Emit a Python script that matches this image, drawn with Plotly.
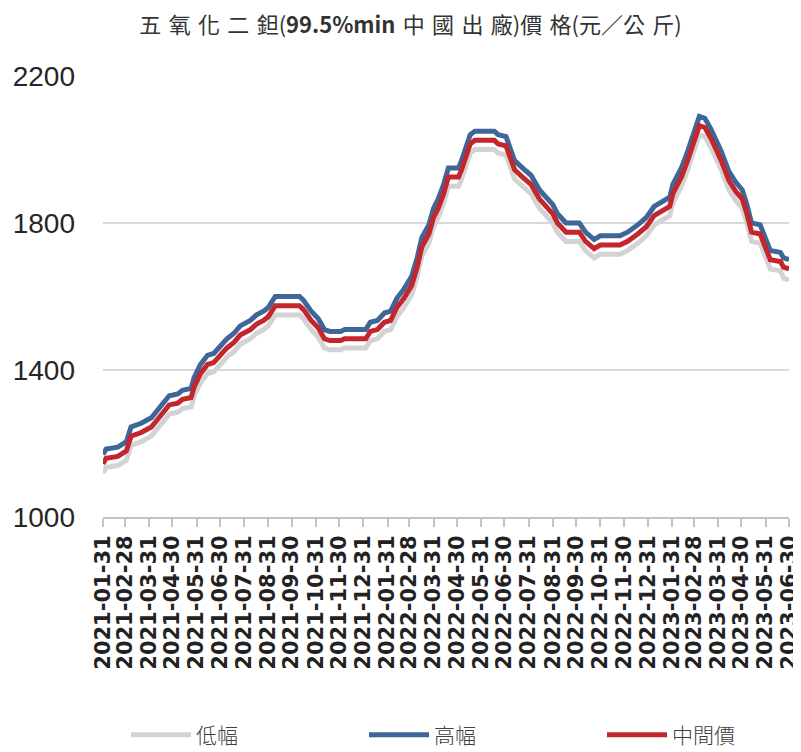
import plotly.graph_objects as go

# ---- data ----
dates = [
    "2021-01-31", "2021-02-04", "2021-02-19", "2021-03-02", "2021-03-08", "2021-03-21",
    "2021-04-03", "2021-04-11", "2021-04-26", "2021-05-07", "2021-05-13", "2021-05-24",
    "2021-05-28", "2021-06-05", "2021-06-14", "2021-06-22", "2021-07-01", "2021-07-09",
    "2021-07-18", "2021-07-26", "2021-08-08", "2021-08-16", "2021-08-25", "2021-08-31",
    "2021-09-09", "2021-10-10", "2021-10-15", "2021-10-25", "2021-11-03", "2021-11-11",
    "2021-11-18", "2021-12-02", "2021-12-07", "2022-01-03", "2022-01-09", "2022-01-18",
    "2022-01-27", "2022-02-04", "2022-02-12", "2022-02-21", "2022-03-03", "2022-03-10",
    "2022-03-16", "2022-03-25", "2022-03-31", "2022-04-06", "2022-04-13", "2022-04-19",
    "2022-05-02", "2022-05-06", "2022-05-17", "2022-05-23", "2022-06-17", "2022-06-22",
    "2022-07-02", "2022-07-13", "2022-07-23", "2022-08-03", "2022-08-14", "2022-08-22",
    "2022-08-31", "2022-09-06", "2022-09-17", "2022-10-04", "2022-10-12", "2022-10-23",
    "2022-10-31", "2022-11-25", "2022-12-05", "2022-12-18", "2022-12-29", "2023-01-08",
    "2023-01-21", "2023-01-28", "2023-02-01", "2023-02-12", "2023-02-20", "2023-03-01",
    "2023-03-07", "2023-03-14", "2023-03-22", "2023-04-04", "2023-04-14", "2023-04-23",
    "2023-05-01", "2023-05-07", "2023-05-13", "2023-05-24", "2023-05-30", "2023-06-06",
    "2023-06-19", "2023-06-23", "2023-06-30",
]

mid_price = [
    1145, 1160, 1165, 1180, 1220, 1230,
    1245, 1265, 1305, 1310, 1320, 1325,
    1355, 1390, 1415, 1420, 1440, 1460,
    1475, 1495, 1510, 1525, 1535, 1545,
    1575, 1575, 1565, 1535, 1515, 1485,
    1480, 1480, 1485, 1485, 1505, 1510,
    1530, 1535, 1570, 1595, 1630, 1680,
    1735, 1770, 1815, 1840, 1880, 1925,
    1925, 1945, 2015, 2025, 2025, 2015,
    2010, 1945, 1925, 1905, 1865, 1845,
    1825, 1800, 1775, 1775, 1750, 1730,
    1740, 1740, 1750, 1770, 1790, 1820,
    1835, 1845, 1880, 1925, 1970, 2025,
    2065, 2060, 2030, 1970, 1915, 1885,
    1865, 1825, 1775, 1770, 1735, 1700,
    1695, 1680, 1675,
]

high_price = [
    1170, 1185, 1190, 1205, 1245, 1255,
    1270, 1290, 1330, 1335, 1345, 1350,
    1380, 1415, 1440, 1445, 1465, 1485,
    1500, 1520, 1535, 1550, 1560, 1570,
    1600, 1600, 1590, 1560, 1540, 1510,
    1505, 1505, 1510, 1510, 1530, 1535,
    1555, 1560, 1595, 1620, 1655, 1705,
    1760, 1795, 1840, 1865, 1905, 1950,
    1950, 1970, 2040, 2050, 2050, 2040,
    2035, 1970, 1950, 1930, 1890, 1870,
    1850, 1825, 1800, 1800, 1775, 1755,
    1765, 1765, 1775, 1795, 1815, 1845,
    1860, 1870, 1905, 1950, 1995, 2050,
    2090, 2085, 2055, 1995, 1940, 1910,
    1890, 1850, 1800, 1795, 1760, 1725,
    1720, 1705, 1700,
]

low_price = [
    1120, 1135, 1140, 1155, 1195, 1205,
    1220, 1240, 1280, 1285, 1295, 1300,
    1330, 1365, 1390, 1395, 1415, 1435,
    1450, 1470, 1485, 1500, 1510, 1520,
    1550, 1550, 1540, 1510, 1490, 1460,
    1455, 1455, 1460, 1460, 1480, 1485,
    1505, 1510, 1545, 1570, 1605, 1655,
    1710, 1745, 1790, 1815, 1855, 1900,
    1900, 1920, 1990, 2000, 2000, 1990,
    1985, 1920, 1900, 1880, 1840, 1820,
    1800, 1775, 1750, 1750, 1725, 1705,
    1715, 1715, 1725, 1745, 1765, 1795,
    1810, 1820, 1855, 1900, 1945, 2000,
    2040, 2035, 2005, 1945, 1890, 1860,
    1840, 1800, 1750, 1745, 1710, 1675,
    1670, 1650, 1645,
]

tick_labels = [
    "2021-01-31", "2021-02-28", "2021-03-31", "2021-04-30", "2021-05-31", "2021-06-30",
    "2021-07-31", "2021-08-31", "2021-09-30", "2021-10-31", "2021-11-30", "2021-12-31",
    "2022-01-31", "2022-02-28", "2022-03-31", "2022-04-30", "2022-05-31", "2022-06-30",
    "2022-07-31", "2022-08-31", "2022-09-30", "2022-10-31", "2022-11-30", "2022-12-31",
    "2023-01-31", "2023-02-28", "2023-03-31", "2023-04-30", "2023-05-31", "2023-06-30",
]

y_ticks = [1000, 1400, 1800, 2200]

series_names = ["低幅", "高幅", "中間價"]
series_colors = ["#d3d3d3", "#3f6698", "#c4262d"]
S = "\u2004"  # three-per-em space used as letter spacing in the title
title_text = (S.join("五氧化二鉭") + "(<b>99.5%min</b>" + S + S.join("中國出廠") + ")"
              + S.join("價格") + "(元／" + S.join("公斤") + ")")

# The page places the figure 8 px from the top-left corner, so the figure is
# sized 8 px smaller than the 801x752 window and all positions are offset.
W, H, OFF = 793, 744, 8

# ---- figure ----
fig = go.Figure()
legend_ids = ["legend", "legend2", "legend3"]
for name, yv, col, lg in zip(series_names, [low_price, high_price, mid_price], series_colors, legend_ids):
    fig.add_trace(go.Scatter(x=dates, y=yv, mode="lines", name=name, legend=lg,
                             line=dict(color=col, width=5)))

legend_font = dict(family="Noto Sans CJK TC, sans-serif", size=21, color="#404040", weight=300)
legend_x_page = [126, 364, 602]


def legend_cfg(xp):
    return dict(orientation="h", xref="container", yref="container",
                x=(xp - OFF) / W, y=1 - (735 - OFF) / H, xanchor="left", yanchor="middle",
                itemwidth=60, font=legend_font, bgcolor="rgba(0,0,0,0)")


fig.update_layout(
    width=W, height=H,
    paper_bgcolor="white", plot_bgcolor="white",
    margin=dict(l=103 - OFF, r=12, t=76 - OFF, b=235, autoexpand=False),
    title=dict(text=title_text, x=(410.5 - OFF) / W, xanchor="center",
               y=1 - (25 - OFF) / H, yanchor="middle",
               font=dict(family="Noto Sans CJK TC, Liberation Sans, sans-serif", size=22,
                         color="#333333")),
    showlegend=True,
    legend=legend_cfg(legend_x_page[0]),
    legend2=legend_cfg(legend_x_page[1]),
    legend3=legend_cfg(legend_x_page[2]),
    xaxis=dict(
        type="date",
        range=[tick_labels[0], tick_labels[-1]],
        tickmode="array", tickvals=tick_labels, ticktext=tick_labels,
        tickangle=-90, ticklabeloverflow="allow",
        tickfont=dict(family="DejaVu Sans", size=21, color="#222222", weight="bold"),
        showgrid=False, showline=True, linecolor="#c3c3c3", linewidth=2,
        ticks="outside", ticklen=8, tickcolor="#c3c3c3", tickwidth=1.5,
        zeroline=False,
    ),
    yaxis=dict(
        range=[1000, 2200], tickmode="array", tickvals=y_ticks,
        ticktext=[str(v) for v in y_ticks],
        tickfont=dict(family="Liberation Sans", size=28, color="#262626"),
        showgrid=True, gridcolor="#d9d9d9", gridwidth=2,
        showline=False, zeroline=False, ticks="", ticklabelstandoff=27,
    ),
)

fig.write_html("out.html")
